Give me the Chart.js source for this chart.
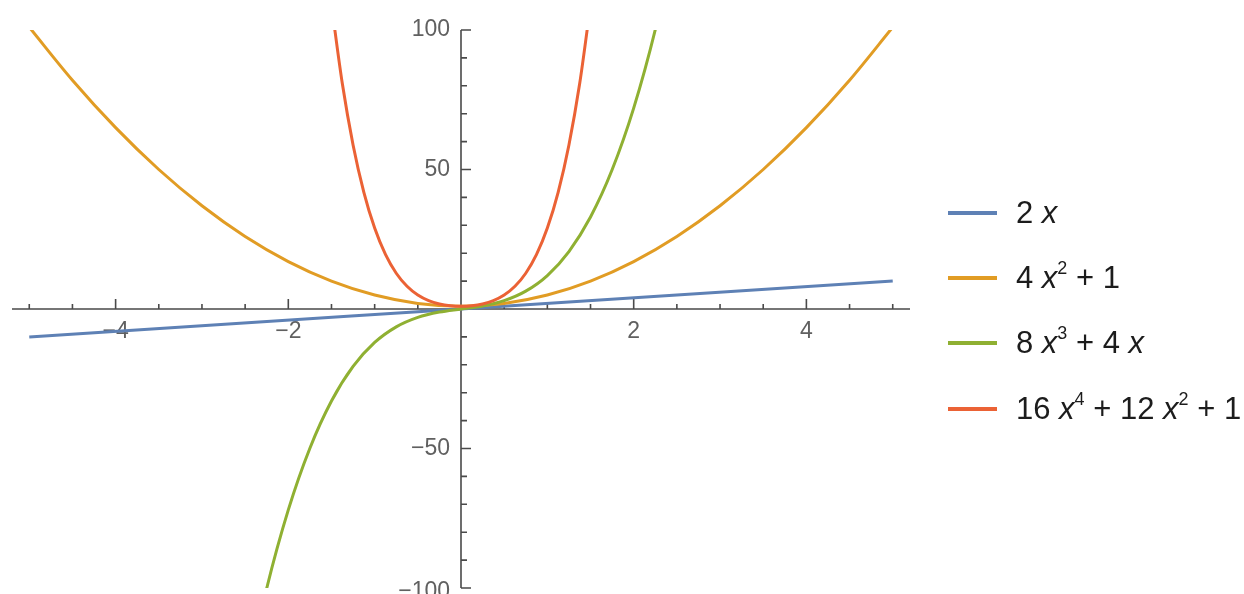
<!DOCTYPE html>
<html>
<head>
<meta charset="utf-8">
<script src="https://cdn.jsdelivr.net/npm/chart.js@4"></script>
<style>
  html, body { margin: 0; padding: 0; background: #fff; }
  #wrap { position: relative; width: 1244px; height: 594px; overflow: hidden; }
  #legend {
    position: absolute; left: 948px; top: 180px;
    font-family: "Liberation Sans", Arial, sans-serif; font-size: 31px; color: #1c1c1c;
  }
  .row { height: 65.3px; display: flex; align-items: center; white-space: nowrap; }
  .swatch { width: 49px; height: 4px; margin-right: 19px; }
  .row i { font-style: italic; }
  .row sup { font-size: 0.58em; vertical-align: 0.8em; line-height: 0; }
</style>
</head>
<body>
<div id="wrap">
  <canvas id="chart" width="1244" height="594"></canvas>
  <div id="legend"></div>
</div>
<script>
// series
const blueX = [-5, 0, 5];
const blueY = [-10, 0, 10];

const orangeX = [-5, -4.5, -4, -3.5, -3, -2.5, -2, -1.5, -1, -0.5, 0, 0.5, 1, 1.5, 2, 2.5, 3, 3.5, 4, 4.5, 5];
const orangeY = [101, 82, 65, 50, 37, 26, 17, 10, 5, 2, 1, 2, 5, 10, 17, 26, 37, 50, 65, 82, 101];

const greenX = [-2.5, -2.25, -2, -1.75, -1.5, -1.25, -1, -0.75, -0.5, -0.25, 0, 0.25, 0.5, 0.75, 1, 1.25, 1.5, 1.75, 2, 2.25, 2.5];
const greenY = [-135, -100.1, -72, -49.9, -33, -20.6, -12, -6.4, -3, -1.1, 0, 1.1, 3, 6.4, 12, 20.6, 33, 49.9, 72, 100.1, 135];

const redX = [-1.5, -1.375, -1.25, -1.125, -1, -0.875, -0.75, -0.625, -0.5, -0.375, -0.25, -0.125, 0,
              0.125, 0.25, 0.375, 0.5, 0.625, 0.75, 0.875, 1, 1.125, 1.25, 1.375, 1.5];
const redY = [109, 80.88, 58.81, 41.82, 29, 19.57, 12.81, 8.13, 5, 3, 1.81, 1.19, 1,
              1.19, 1.81, 3, 5, 8.13, 12.81, 19.57, 29, 41.82, 58.81, 80.88, 109];

const seriesLabels = ['2 x', '4 x² + 1', '8 x³ + 4 x', '16 x⁴ + 12 x² + 1'];
const legendHtml = [
  '2 <i>x</i>',
  '4 <i>x</i><sup>2</sup> + 1',
  '8 <i>x</i><sup>3</sup> + 4 <i>x</i>',
  '16 <i>x</i><sup>4</sup> + 12 <i>x</i><sup>2</sup> + 1'
];
const seriesColors = ['#5e81b5', '#e19c24', '#8fb032', '#eb6235'];

const xMajorTicks = [-4, -2, 2, 4];
const xMinorTicks = [-5, -4.5, -3.5, -3, -2.5, -1.5, -1, -0.5, 0.5, 1, 1.5, 2.5, 3, 3.5, 4.5, 5];
const yMajorTicks = [-100, -50, 50, 100];
const yMinorTicks = [-90, -80, -70, -60, -40, -30, -20, -10, 10, 20, 30, 40, 60, 70, 80, 90];

const zip = (xs, ys) => xs.map((x, i) => ({ x: x, y: ys[i] }));
const seriesPoints = [zip(blueX, blueY), zip(orangeX, orangeY), zip(greenX, greenY), zip(redX, redY)];

const fmt = v => (v < 0 ? '\u2212' + Math.abs(v) : String(v));

// Mathematica-style axes crossing at the origin
const originAxes = {
  id: 'originAxes',
  beforeDatasetsDraw(chart) {
    const ctx = chart.ctx;
    const xs = chart.scales.x, ys = chart.scales.y;
    const x0 = xs.getPixelForValue(0), y0 = ys.getPixelForValue(0);
    ctx.save();
    ctx.strokeStyle = '#4a4a4a';
    ctx.lineWidth = 1.6;
    ctx.beginPath();
    ctx.moveTo(xs.left, y0); ctx.lineTo(xs.right, y0);
    ctx.moveTo(x0, ys.top); ctx.lineTo(x0, ys.bottom);
    xMajorTicks.forEach(v => { const p = xs.getPixelForValue(v); ctx.moveTo(p, y0); ctx.lineTo(p, y0 - 10); });
    xMinorTicks.forEach(v => { const p = xs.getPixelForValue(v); ctx.moveTo(p, y0); ctx.lineTo(p, y0 - 5); });
    yMajorTicks.forEach(v => { const p = ys.getPixelForValue(v); ctx.moveTo(x0, p); ctx.lineTo(x0 + 10, p); });
    yMinorTicks.forEach(v => { const p = ys.getPixelForValue(v); ctx.moveTo(x0, p); ctx.lineTo(x0 + 6, p); });
    ctx.stroke();

    ctx.fillStyle = '#606060';
    ctx.font = '23px "Liberation Sans", Arial, sans-serif';
    ctx.textAlign = 'center';
    ctx.textBaseline = 'middle';
    xMajorTicks.forEach(v => ctx.fillText(fmt(v), xs.getPixelForValue(v), y0 + 23));
    ctx.textAlign = 'right';
    yMajorTicks.forEach(v => ctx.fillText(fmt(v), x0 - 11, ys.getPixelForValue(v) + (v === -100 ? 4 : 0)));
    ctx.restore();
  }
};

new Chart(document.getElementById('chart'), {
  type: 'scatter',
  data: {
    datasets: seriesPoints.map((pts, i) => ({
      label: seriesLabels[i],
      data: pts,
      showLine: true,
      borderColor: seriesColors[i],
      backgroundColor: seriesColors[i],
      borderWidth: 3,
      pointRadius: 0,
      cubicInterpolationMode: 'monotone',
      clip: 0,
      order: 4 - i
    }))
  },
  options: {
    responsive: false,
    animation: false,
    layout: { padding: { left: 12, right: 334, top: 30, bottom: 6 } },
    scales: {
      x: { type: 'linear', min: -5.2, max: 5.2, display: false },
      y: { type: 'linear', min: -100, max: 100, display: false }
    },
    plugins: { legend: { display: false }, tooltip: { enabled: false } }
  },
  plugins: [originAxes]
});

document.getElementById('legend').innerHTML = legendHtml.map((h, i) =>
  '<div class="row"><div class="swatch" style="background:' + seriesColors[i] + '"></div><span>' + h + '</span></div>'
).join('');
</script>
</body>
</html>
